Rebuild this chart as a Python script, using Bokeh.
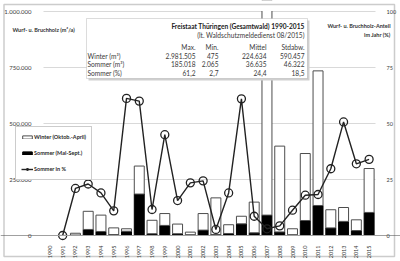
from bokeh.plotting import figure
from bokeh.models import (Range1d, LinearAxis, FixedTicker, Legend, LegendItem,
                          Label, BoxAnnotation, ColumnDataSource)
from bokeh.embed import file_html
from bokeh.resources import INLINE
import math

# ---------------- data ----------------
years = [str(y) for y in range(1990, 2016)]
year_num = list(range(1990, 2016))
winter = [0, 475, 8000, 81000, 73000, 30000, 11000, 125000, 60000, 53000,
          43000, 11500, 74000, 163500, 39000, 34000, 137000, 2981505, 383000,
          26500, 299000, 601000, 81000, 62000, 48000, 196000]
sommer = [0, 0, 2100, 27000, 18000, 4000, 19000, 185018, 8000, 45000,
          8000, 3500, 24000, 4500, 9000, 52000, 12000, 91000, 16000,
          3500, 67000, 134000, 34000, 63000, 22000, 103000]
sommer_pct = [float("nan"), 0, 21, 23, 19, 11, 61.2, 60, 11.6, 45, 15.6, 23.5,
              24.4, 2.7, 19, 61, 8.6, 3, 4.3, 11.3, 18, 18.3, 29.8, 50.7, 32, 34]

left_ticks = [0, 250000, 500000, 750000, 1000000]
left_tick_labels = ["0", "250.000", "500.000", "750.000", "1.000.000"]
right_ticks = [0, 25, 50, 75, 100]

table_title = "Freistaat Thüringen (Gesamtwald) 1990-2015"
table_subtitle = "(lt. Waldschutzmeldedienst 08/2015)"
table_cols = ["Max.", "Min.", "Mittel", "Stdabw."]
table_rows = ["Winter (m³)", "Sommer (m³)", "Sommer (%)"]
table_vals = [["2.981.505", "475", "224.634", "590.457"],
              ["185.018", "2.065", "36.635", "46.322"],
              ["61,2", "2,7", "24,4", "18,5"]]

FONT = "Lato"
TXT = "#3a3a3a"

# ---------------- geometry (canvas pixels) ----------------
W, H = 400, 261
PL, PR, PT, PB = 43, 375, 11, 235      # plot area
XMIN, XMAX = 1989.5, 2015.5
YMAX = 1000000
PMAX = 100
xs = (PR - PL) / (XMAX - XMIN)
ys = (PB - PT) / YMAX
ps = (PB - PT) / PMAX

x_range = Range1d(XMIN - PL / xs, XMAX + (W - PR) / xs)
y_range = Range1d(-(H - PB) / ys, YMAX + PT / ys)

src = ColumnDataSource(dict(x=year_num, winter=winter, sommer=sommer, pct=sommer_pct))

p = figure(width=W, height=H, output_backend="svg", toolbar_location=None,
           x_range=x_range, y_range=y_range, x_axis_location=None,
           y_axis_location=None,
           min_border=0, min_border_left=0, min_border_right=0,
           min_border_top=0, min_border_bottom=0)
p.extra_y_ranges = {"pct": Range1d(-(H - PB) / ps, PMAX + PT / ps)}
p.outline_line_color = None
p.background_fill_color = "white"
p.border_fill_color = "white"
p.xgrid.visible = False
p.ygrid.visible = False

# gridlines (only across plot area)
p.segment(x0=[XMIN] * len(left_ticks), x1=[XMAX] * len(left_ticks),
          y0=left_ticks, y1=left_ticks, line_color="#d9d9d9", line_width=1)

bars = p.vbar_stack(["sommer", "winter"], x="x", width=0.78, source=src,
                    fill_color=["black", "white"], line_color=["black", "#4d4d4d"],
                    line_width=1)
ln = p.line("x", "pct", source=src, y_range_name="pct", line_color="#222222",
            line_width=1.4)
sc = p.scatter("x", "pct", source=src, y_range_name="pct", size=8,
               fill_color=None, line_color="#222222", line_width=1.3)

def sx(px):
    return px
def sy(py):
    return H - py

def box(l, r, t, b, **kw):
    p.add_layout(BoxAnnotation(left=sx(l), right=sx(r), top=sy(t), bottom=sy(b),
                               left_units="screen", right_units="screen",
                               top_units="screen", bottom_units="screen", **kw))

# mask above the plot area top (clips the 2007 bar)
box(PL, PR, -1, PT - 0.6, fill_color="white", fill_alpha=1, line_color=None)

# axes (fixed inside frame)
xa = LinearAxis(fixed_location=0, ticker=FixedTicker(ticks=year_num))
xa.major_label_overrides = {y: s for y, s in zip(year_num, years)}
xa.major_label_orientation = math.pi / 2
xa.major_label_text_font = FONT
xa.major_label_text_font_size = "5.5px"
xa.major_label_text_color = TXT
xa.major_label_standoff = 4
xa.axis_line_color = "#a0a0a0"
xa.major_tick_line_color = None
xa.minor_tick_line_color = None
p.add_layout(xa, "below")

ya = LinearAxis(fixed_location=XMIN, ticker=FixedTicker(ticks=left_ticks))
ya.major_label_overrides = dict(zip(left_ticks, left_tick_labels))
ya.major_label_text_font = FONT
ya.major_label_text_font_size = "6px"
ya.major_label_text_color = TXT
ya.axis_line_color = None
ya.major_tick_line_color = None
ya.minor_tick_line_color = None
ya.major_label_standoff = 6
p.add_layout(ya, "left")

ry = LinearAxis(y_range_name="pct", fixed_location=XMAX,
                ticker=FixedTicker(ticks=right_ticks))
ry.major_label_text_font = FONT
ry.major_label_text_font_size = "5.5px"
ry.major_label_text_color = TXT
ry.axis_line_color = None
ry.major_tick_line_color = None
ry.minor_tick_line_color = None
ry.major_label_standoff = 5
p.add_layout(ry, "right")

# legend
legend = Legend(items=[
    LegendItem(label="Winter (Oktob.-April)", renderers=[bars[1]]),
    LegendItem(label="Sommer (Mai-Sept.)", renderers=[bars[0]]),
    LegendItem(label="Sommer in %", renderers=[ln, sc]),
], location=(15, H - 180))
legend.label_text_font = FONT
legend.label_text_font_size = "5.5px"
legend.label_text_color = "#2a2a2a"
legend.label_text_font_style = "bold"
legend.glyph_width = 12
legend.glyph_height = 4
legend.label_height = 10
legend.spacing = 6
legend.padding = 5
legend.margin = 0
legend.label_standoff = 1
legend.border_line_color = "#999999"
legend.background_fill_color = "white"
legend.background_fill_alpha = 1
p.add_layout(legend)

# outer border
box(3.5, 394, 4, 256, fill_alpha=0, line_color="#555555", line_width=1.5)

# info box (with light shadow)
box(88, 309, 20, 80, fill_color="#cfcfcf", fill_alpha=1, line_color=None)
box(86, 307, 18, 78, fill_color="white", fill_alpha=1, line_color="#8a8a8a", line_width=1)

def lab(text, x, y, align="left", bold=False, size="6.6px", color=TXT):
    p.add_layout(Label(x=sx(x), y=sy(y), x_units="screen", y_units="screen",
                       text=text, text_align=align, text_baseline="middle",
                       text_font=FONT, text_font_size=size, text_color=color,
                       text_font_style="bold" if bold else "normal"))

lab(table_title, 304, 25, "right", True, "6.6px", "#222222")
lab(table_subtitle, 304, 34.5, "right")
col_x = [195, 218, 266, 304]
for cx, c in zip(col_x, table_cols):
    lab(c, cx, 46, "right")
row_y = [55, 63.5, 72.5]
for ry_, rname, vals in zip(row_y, table_rows, table_vals):
    lab(rname, 87, ry_, "left")
    for cx, v in zip(col_x, vals):
        lab(v, cx, ry_, "right")

# axis titles
lab("Wurf- u. Bruchholz (m³/a)", 12, 29, "left", True, "5.5px", "#333333")
lab("Wurf- u. Bruchholz-Anteil", 390, 25, "right", True, "5.5px", "#333333")
lab("im Jahr (%)", 390, 34, "right", True, "5.5px", "#333333")

open("out.html", "w").write(file_html(p, INLINE))
